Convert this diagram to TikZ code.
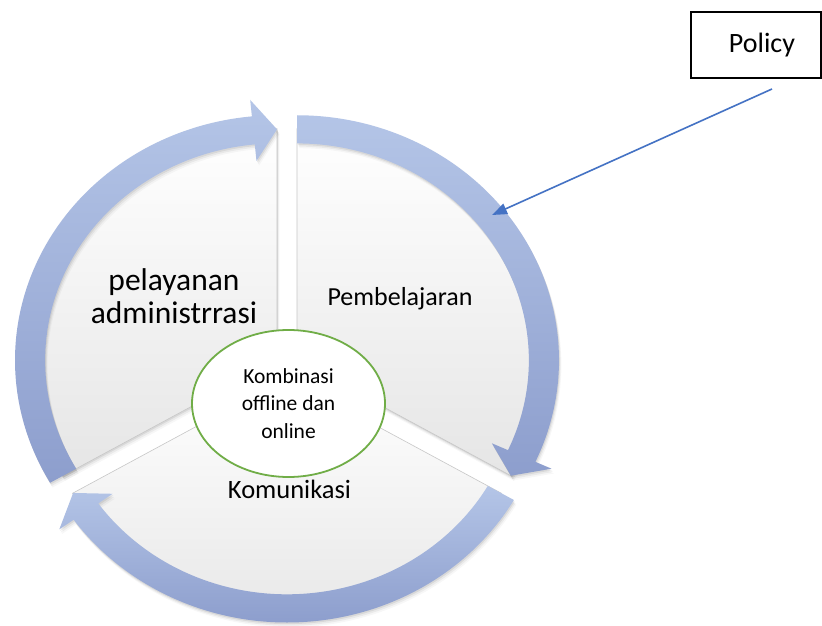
\documentclass[tikz,border=0pt]{standalone}
\usepackage{fontspec}
\setmainfont{Carlito}
\usetikzlibrary{arrows.meta,shapes.geometric}
\definecolor{bandtop}{RGB}{180,197,231}
\definecolor{bandbot}{RGB}{141,158,205}
\definecolor{ringgreen}{RGB}{112,173,71}
\definecolor{policyblue}{RGB}{68,114,196}
\tikzset{
  softshadow/.style={
    preaction={fill=black, fill opacity=0.07, transform canvas={xshift=0.8pt,yshift=-1.6pt}},
    preaction={fill=black, fill opacity=0.05, transform canvas={xshift=1.6pt,yshift=-3.2pt}},
    preaction={fill=black, fill opacity=0.03, transform canvas={xshift=2.4pt,yshift=-4.8pt}}},
  sectorfill/.style={softshadow, top color=white, middle color=black!3, bottom color=black!10, draw=black!22, line width=0.6pt},
  bandfill/.style={softshadow, top color=bandtop, bottom color=bandbot},
  centreellipse/.style={ellipse, draw=ringgreen, line width=1.8pt, fill=white, inner sep=0pt,
    minimum width=193pt, minimum height=147pt},
  policybox/.style={draw, line width=1.2pt, minimum width=130pt, minimum height=66pt, inner sep=0pt, fill=white},
  policyarrow/.style={draw=policyblue, line width=1.6pt, -{Triangle[length=15pt,width=11pt]}}
}
% #1 centre, #2 start angle, #3 end angle (clockwise)
\newcommand\cyclesector[3]{%
  \begin{scope}[shift={#1}, xscale=262, yscale=245]
    \path[sectorfill] (0,0) -- (#2:0.945) arc[start angle=#2, end angle=#3, radius=0.945] -- cycle;
  \end{scope}}
\newcommand\cyclearrow[3]{%
  \begin{scope}[shift={#1}, xscale=262, yscale=245]
    \path[bandfill] (#2:1) arc[start angle=#2, end angle=#3+5.5, radius=1]
      -- (#3+5.5:1.0675) -- (#3:0.9425) -- (#3+5.5:0.8175) -- (#3+5.5:0.885)
      arc[start angle=#3+5.5, end angle=#2, radius=0.885] -- cycle;
  \end{scope}}
\begin{document}
\begin{tikzpicture}[x=1pt,y=1pt]
  \useasboundingbox (0,0) rectangle (822,625);
  \fill[white] (0,0) rectangle (822,625);
  % sectors
  \cyclesector{(297,264.75)}{90}{-30}
  \cyclesector{(277,264.75)}{210}{90}
  \cyclesector{(287,247.5)}{330}{210}
  % arrows on the rim
  \cyclearrow{(297,264.75)}{90}{-30}
  \cyclearrow{(277,264.75)}{210}{90}
  \cyclearrow{(287,247.5)}{330}{210}
  % labels
  \node[font=\fontsize{31.5}{33}\selectfont, align=center, anchor=base] (pel) at (174,302) {pelayanan\\administrrasi};
  \node[font=\fontsize{26}{30}\selectfont, anchor=base] (pem) at (400,320) {Pembelajaran};
  \node[font=\fontsize{26.5}{30}\selectfont, anchor=base] (kom) at (289.5,127) {Komunikasi};
  \node[centreellipse, align=center, font=\fontsize{21.5}{27.5}\selectfont] (mix) at (288.5,221.5) {Kombinasi\\offline dan\\online};
  % policy
  \node[policybox, font=\fontsize{28}{32}\selectfont] (policy) at (756,580) {\hspace*{12pt}Policy};
  \coordinate (pstart) at (772,536);
  \coordinate (ptip) at (492,410);
  \draw[policyarrow] (pstart) -- (ptip);
\end{tikzpicture}
\end{document}
